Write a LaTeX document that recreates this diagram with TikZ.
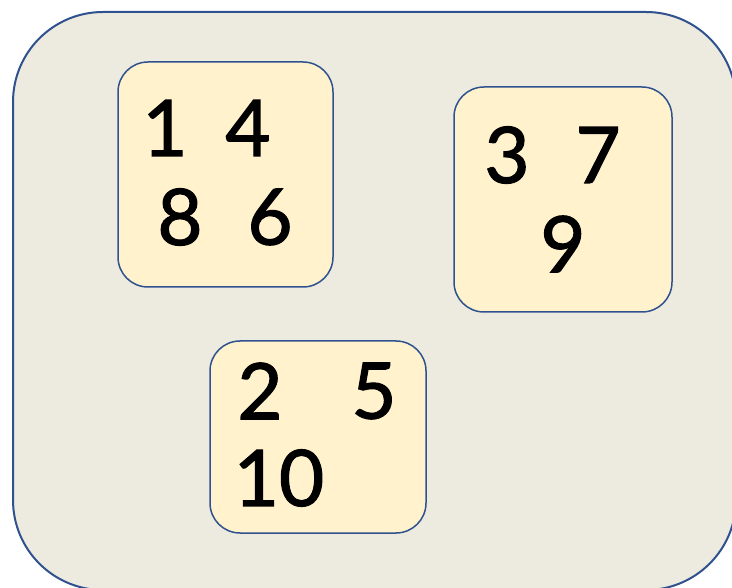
\documentclass[tikz,border=0pt]{standalone}
\usepackage{fontspec}
\setmainfont{Lato}
\newfontfamily\numfont[FakeBold=1.5]{Lato}
\usepackage{tikz}
\usetikzlibrary{positioning}
\definecolor{cEdge}{RGB}{47,82,143}
\definecolor{cOuter}{RGB}{237,234,224}
\definecolor{cInner}{RGB}{255,242,204}
\tikzset{
	group/.style ={draw=cEdge, line width=1.5pt, fill=cInner, rounded corners=30pt},
	num/.style   ={inner sep=0pt, font=\numfont\fontsize{78}{90}\selectfont},
}
\begin{document}
\begin{tikzpicture}[x=1pt, y=-1pt]
	\useasboundingbox (0,0) rectangle (732,588);
	\clip (0,0) rectangle (732,588);
	\filldraw[fill=cOuter, draw=cEdge, line width=2pt, rounded corners=90pt] (13,12) rectangle (736,590);
	% the three groups
	\filldraw[group] (118,62) rectangle (333,287);
	\filldraw[group] (454,87) rectangle (672,312);
	\filldraw[group] (210,341) rectangle (426,533);
	\node[num] (n1) at (165,128) {1};
	\node[num] (n4) at (248,128) {4};
	\node[num] (n8) at (180,217) {8};
	\node[num] (n6) at (270,217) {6};
	\node[num] (n3) at (507,155) {3};
	\node[num] (n7) at (598,155) {7};
	\node[num] (n9) at (563,244) {9};
	\node[num] (n2) at (260,391) {2};
	\node[num] (n5) at (374,391) {5};
	\node[num] (n10) at (279,478) {10};
\end{tikzpicture}
\end{document}
